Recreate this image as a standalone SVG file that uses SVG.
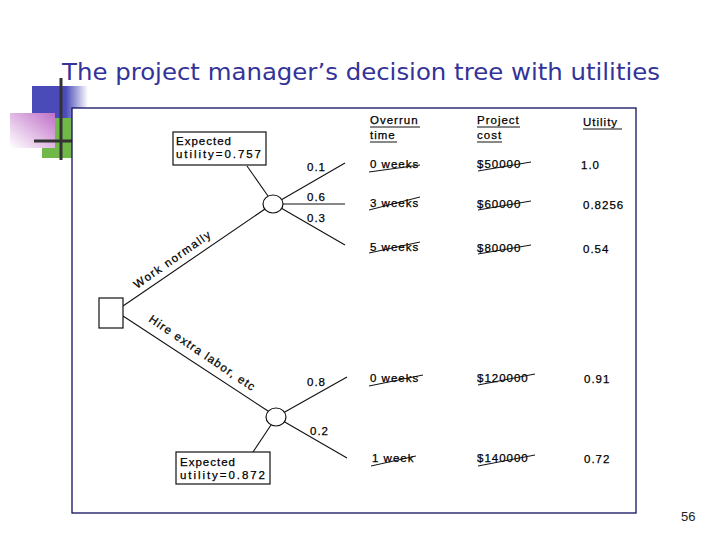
<svg xmlns="http://www.w3.org/2000/svg" width="720" height="540" viewBox="0 0 720 540">
<defs>
<linearGradient id="gBlue" x1="0" y1="0" x2="1" y2="0">
<stop offset="0" stop-color="#4a4ab8"/><stop offset="0.6" stop-color="#4a4ab8"/><stop offset="1" stop-color="#4a4ab8" stop-opacity="0"/>
</linearGradient>
<linearGradient id="gPink" x1="1" y1="0" x2="0" y2="1">
<stop offset="0" stop-color="#c070c8"/><stop offset="1" stop-color="#ffffff"/>
</linearGradient>
<style>
.title{font-family:"DejaVu Sans","Liberation Sans",sans-serif;font-size:23px;fill:#333399}
.t{font-family:"Liberation Sans","DejaVu Sans",sans-serif;font-size:11.5px;fill:#000;stroke:#000;stroke-width:0.25;letter-spacing:1px}
.edge{stroke:#111;stroke-width:1.1;fill:none}
.scr{stroke:#111;stroke-width:1;fill:none}
.box{fill:#fff;stroke:#111;stroke-width:1.2}
.pg{font-family:"Liberation Sans",sans-serif;font-size:13px;fill:#222}
</style>
</defs>
<rect width="720" height="540" fill="#fff"/>
<!-- decoration -->
<rect x="32" y="86" width="56" height="33" fill="url(#gBlue)"/>
<rect x="42" y="118" width="30" height="40" fill="#70b848"/>
<rect x="10" y="113" width="45" height="35" fill="url(#gPink)"/>
<line x1="61" y1="78" x2="61" y2="160" stroke="#333" stroke-width="3"/>
<line x1="34" y1="141" x2="73" y2="141" stroke="#333" stroke-width="3"/>
<text class="title" x="62" y="80" textLength="598" lengthAdjust="spacingAndGlyphs">The project manager’s decision tree with utilities</text>
<rect x="72" y="108" width="564" height="405" fill="#fff" stroke="#101060" stroke-width="1.3"/>
<text class="pg" x="681" y="521">56</text>

<g id="connectors">
<line class="edge" x1="123" y1="306" x2="265" y2="209"/>
<line class="edge" x1="123" y1="316" x2="268" y2="411"/>
<line class="edge" x1="281" y1="200" x2="345" y2="163"/>
<line class="edge" x1="283" y1="204" x2="345" y2="204"/>
<line class="edge" x1="281" y1="208" x2="345" y2="245"/>
<line class="edge" x1="247" y1="166" x2="268" y2="196"/>
<line class="edge" x1="283" y1="413" x2="347" y2="377"/>
<line class="edge" x1="283" y1="421" x2="347" y2="458"/>
<line class="edge" x1="253" y1="452" x2="271" y2="425"/>
</g>

<g id="decision"><rect class="box" x="99" y="298" width="24" height="30"/></g>
<g id="chance1"><ellipse class="box" cx="273" cy="204" rx="10" ry="9"/></g>
<g id="chance2"><ellipse class="box" cx="276" cy="417" rx="10" ry="9"/></g>

<g id="exp1">
<rect class="box" x="173" y="132" width="93" height="33"/>
<text class="t" x="176" y="145">Expected</text>
<text class="t" x="176" y="158" textLength="86">utility=0.757</text>
</g>
<g id="exp2">
<rect class="box" x="176" y="452" width="94" height="32"/>
<text class="t" x="180" y="466">Expected</text>
<text class="t" x="180" y="479" textLength="86">utility=0.872</text>
</g>

<g id="labels">
<text class="t" transform="translate(137,289) rotate(-35)" textLength="92">Work normally</text>
<text class="t" transform="translate(148,321) rotate(34)" textLength="126">Hire extra labor, etc</text>
<text class="t" x="307" y="171">0.1</text>
<text class="t" x="307" y="201">0.6</text>
<text class="t" x="307" y="222">0.3</text>
<text class="t" x="307" y="386">0.8</text>
<text class="t" x="310" y="435">0.2</text>
</g>

<g id="table">
<text class="t" x="370" y="124">Overrun</text>
<line class="scr" x1="370" y1="127" x2="420" y2="127"/>
<text class="t" x="370" y="139">time</text>
<line class="scr" x1="370" y1="142" x2="397" y2="142"/>
<text class="t" x="477" y="124">Project</text>
<line class="scr" x1="477" y1="127" x2="520" y2="127"/>
<text class="t" x="477" y="139">cost</text>
<line class="scr" x1="477" y1="142" x2="502" y2="142"/>
<text class="t" x="583" y="126">Utility</text>
<line class="scr" x1="583" y1="129" x2="622" y2="129"/>

<text class="t" x="370" y="168">0 weeks</text>
<line class="scr" x1="369" y1="172" x2="420" y2="165"/>
<text class="t" x="477" y="168">$50000</text>
<line class="scr" x1="478" y1="171" x2="531" y2="162"/>
<text class="t" x="581" y="169">1.0</text>

<text class="t" x="370" y="207">3 weeks</text>
<line class="scr" x1="369" y1="210" x2="420" y2="197"/>
<text class="t" x="477" y="208">$60000</text>
<line class="scr" x1="478" y1="210" x2="531" y2="201"/>
<text class="t" x="583" y="209">0.8256</text>

<text class="t" x="370" y="251">5 weeks</text>
<line class="scr" x1="369" y1="253" x2="420" y2="242"/>
<text class="t" x="477" y="252">$80000</text>
<line class="scr" x1="478" y1="254" x2="531" y2="245"/>
<text class="t" x="583" y="253">0.54</text>

<text class="t" x="370" y="382">0 weeks</text>
<line class="scr" x1="369" y1="386" x2="423" y2="375"/>
<text class="t" x="477" y="382">$120000</text>
<line class="scr" x1="478" y1="385" x2="535" y2="374"/>
<text class="t" x="584" y="383">0.91</text>

<text class="t" x="372" y="462">1 week</text>
<line class="scr" x1="371" y1="466" x2="416" y2="456"/>
<text class="t" x="477" y="462">$140000</text>
<line class="scr" x1="478" y1="466" x2="535" y2="455"/>
<text class="t" x="584" y="463">0.72</text>
</g>
</svg>
